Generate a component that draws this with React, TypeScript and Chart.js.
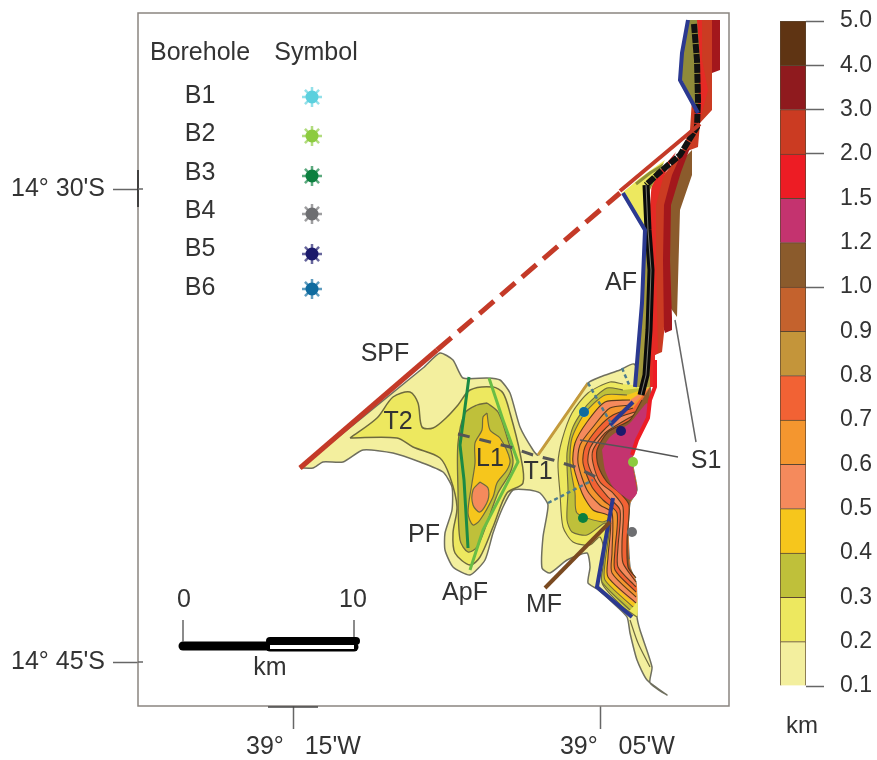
import React, { useEffect, useRef } from "react";
import { Chart, registerables } from "chart.js";

Chart.register(...registerables);

// ---- axes -----
const LAT_TICKS = [189, 662];
const LAT_LABELS = ["14° 30'S", "14° 45'S"];
const LON_TICKS = [293, 600];
const LON_LABELS = ["   39°   15'W", "     39°   05'W"];

// ---- depth classes -----
const LEVELS = ["0.1","0.2","0.3","0.4","0.5","0.6","0.7","0.8","0.9","1.0","1.2","1.5","2.0","3.0","4.0","5.0"];
const MAJOR_LEVELS = ["0.1","1.0","2.0","3.0","4.0","5.0"];
const COLORS = ["#F3EF9E","#EDE85F","#BFC03A","#F6C61C","#F58A5C","#F4962F","#F26234","#C4953A","#C4622D","#8B5B2C","#C4336F","#ED1C24","#CB3B22","#8F1A1E","#5F3413"];

// ---- sediment thickness contours (map grid units, flat x,y lists) -----
const BODY = [300,468,423,368,440,353,453,360,463,378,487,378,500,380,510,393,520,427,533,450,538,455,588,383,600,377,620,370,634,364,650,387,648,418,637,440,632,460,637,490,630,503,628,530,630,567,636,583,637,617,640,630,652,667,650,683,667,695,647,680,637,660,630,633,627,617,613,603,597,589,588,583,590,567,587,553,567,560,550,573,542,568,543,537,548,505,540,493,530,490,513,490,503,507,493,533,485,560,470,575,453,567,445,550,445,533,452,510,452,487,443,472,420,462,393,453,363,450,343,462,323,462,313,468];
const WEST_02 = [350,438,377,418,393,397,410,392,418,403,422,427,433,428,447,417,458,405,470,390,493,387,503,393,510,413,520,453,523,483,507,493,493,527,480,557,470,565,455,553,453,533,457,507,450,477,440,458,413,447,397,438];
const WEST_03 = [487,403,498,412,507,437,513,460,510,473,498,493,487,523,477,547,468,552,460,540,458,490,458,443,465,413,477,405];
const WEST_04 = [487,413,490,430,500,438,510,460,507,470,497,483,493,497,480,520,473,525,468,513,472,483,475,463,475,443,482,430,483,417];
const WEST_05 = [480,482,488,488,488,500,480,512,473,505,473,490];
const EAST_EDGE = [637,617,636,583,630,567,628,530,630,503,637,490,632,460,637,440,648,418,650,387];
const EAST_02 = [623,384,610,382,588,393,572,413,562,440,558,463,560,493,563,527,573,542,590,545,600,537,605,557,602,583,623,607,637,617];
const EAST_03 = [623,390,607,388,587,405,573,427,567,453,568,490,567,520,572,532,587,535,605,523,607,530,603,567,602,582,630,610];
const EAST_04 = [627,395,605,395,585,413,572,438,570,463,575,493,577,513,602,522,610,520,605,563,605,580,633,607];
const EAST_05 = [630,400,605,402,587,422,575,443,573,463,582,493,593,510,610,517,608,557,608,577,636,603];
const EAST_06 = [632,405,610,408,593,427,580,445,578,463,587,490,600,505,612,513,612,553,612,573,636,597];
const EAST_07 = [633,408,613,415,598,428,585,447,583,463,592,487,603,500,617,513,615,550,615,570,636,592];
const EAST_08 = [635,412,618,418,602,432,590,448,588,463,597,483,608,497,620,510,618,547,618,567,636,587];
const EAST_09 = [638,413,622,422,605,433,593,450,593,463,600,482,613,493,623,507,622,543,623,563,636,582];
const EAST_10 = [642,400,630,420,608,432,597,450,598,465,607,482,620,493,629,505,627,540,628,567,636,578];
const EAST_12 = [602,450,610,437,630,423,647,403,648,417,637,440,632,460,637,493,630,500,613,487,605,470];
const TAIL_LINE = [630,620,638,643,650,667];

// ---- northern strip -----
const TOP_DARK = [712,20,720,20,720,70,712,73];
const TOP_ORANGE = [697,20,712,20,712,110,700,123,698,147,690,150,680,155,690,130];
const TOP_RED = [692,20,702,20,702,60,708,90,700,120,695,125];
const TOP_FILL = [688,20,697,20,700,60,698,113,682,80,682,53];
const STRIP_BROWN = [692,150,692,175,680,210,677,317,665,300,662,230,668,190,682,160];
const STRIP_DARK = [690,148,681,172,671,205,670,260,672,318,672,330,665,333,655,300,655,230,664,185,680,155];
const STRIP_ORANGE = [683,150,672,175,664,205,663,260,664,333,662,352,655,355,648,300,648,230,660,180];
const STRIP_RED = [676,152,663,178,656,205,656,260,658,352,655,355,655,387,648,387,648,230,652,180];
const STRIP_WEST = [645,230,642,303,635,387,650,387,650,230];
const WEDGE = [622,193,640,178,665,160,650,190,647,235,645,230];
const WEDGE_OLIVE = [636,184,650,173,660,167,648,190,646,222];
const BLACK_NORTH = [694,24,697,60,698,100,697,127,680,155,660,172,646,185];
const BLACK_SOUTH = [646,185,648,230,651,270,649,330,646,375,641,395];
const RED_EDGE = [655,360,655,387,650,400,648,418,637,440,632,455];

// ---- faults and lines -----
const SPF_SOLID = [300,468,437,350];
const SPF_DASH = [437,350,620,193];
const SPF_NORTH = [620,191,700,124];
const AF_NORTH = [688,20,682,53,680,80,698,113];
const AF_SOUTH = [623,193,645,230,642,303,635,387];
const AF_BRANCH = [633,402,610,425];
const AF_LOWER = [613,498,597,587,632,617];
const PF_LINE = [469,377,460,445,464,480,468,548];
const APF_LINE = [489,378,503,420,518,462,483,530,470,570];
const T_LINE = [458,434,482,440,510,447,533,455,553,460,575,467,598,478];
const T1_LINE = [538,455,588,383];
const MF_LINE = [545,588,610,522];
const DOT_A = [588,383,613,427];
const DOT_B = [622,368,630,387];
const DOT_C = [548,503,593,480];
const S1_A = [580,440,630,448,678,457];
const S1_B = [675,320,696,442];

// ---- scale bar and frame marks -----
const BAR_LEFT = [183,646,268,646];
const BAR_RIGHT_TOP = [270,641,356,641];
const BAR_RIGHT_LOW = [270,647,354,647];
const BAR_TICK_0 = [183,620,183,642];
const BAR_TICK_10 = [354,620,354,637];
const FRAME_MARK_Y = [138,170,138,207];
const FRAME_MARK_X = [268,707,318,707];
const TICK_IN_A = [138,189,143,189];
const TICK_IN_B = [138,662,143,662];

// ---- boreholes -----
const LEGEND_X = [312,312,312,312,312,312];
const LEGEND_Y = [97,136,176,214,254,289];
const BORE_NAMES = ["B1","B2","B3","B4","B5","B6"];
const BORE_COLORS = ["#5BD0DE","#8CCB3F","#0C7F3F","#6D6E71","#1B1A6B","#0F6B9F"];
const BORE_X = [584,633,583,632,621,584];
const BORE_Y = [412,462,518,532,431,412];

// ---- labels -----
const MAP_TEXT: [string, number, number][] = [
  ["Borehole",200,53],["Symbol",316,53],
  [BORE_NAMES[0],200,96],[BORE_NAMES[1],200,134],[BORE_NAMES[2],200,173],[BORE_NAMES[3],200,211],[BORE_NAMES[4],200,249],[BORE_NAMES[5],200,288],
  ["SPF",385,354],["T2",398,422],["L1",490,459],["T1",538,472],["PF",424,535],["ApF",465,593],["MF",544,605],["AF",621,283],["S1",706,461],
  ["0",184,600],["10",353,600],["km",270,668],
];

const pts = (a: number[]) => {
  const out: { x: number; y: number }[] = [];
  for (let i = 0; i < a.length; i += 2) out.push({ x: a[i], y: a[i + 1] });
  return out;
};
const closed = (a: number[]) => [...pts(a), { x: a[0], y: a[1] }];
const withEdge = (a: number[]) => {
  const lastY = a[a.length - 1];
  return [...pts(a), ...pts(EAST_EDGE).filter((p) => p.y < lastY)];
};

const base = { showLine: true, pointRadius: 0, clip: false as any, borderCapStyle: "butt" as const };
const area = (data: any[], color: string, stroke = "rgba(0,0,0,0)", w = 0, tension = 0.3) => ({
  ...base, data, backgroundColor: color, borderColor: stroke, borderWidth: w, fill: "shape", tension,
});
const line = (a: number[], color: string, w: number, extra: any = {}) => ({
  ...base, data: pts(a), borderColor: color, borderWidth: w, fill: false, ...extra,
});
const CONTOUR = "#6e6a3e";
const DARK = "#5a3a1c";
const east = (a: number[], color: string, stroke: string) => [
  area(withEdge(a), color, undefined as any, 0, 0.25),
  line(a, stroke, 1.1, { tension: 0.25 }),
];

function buildDatasets() {
  const list: any[] = [
    area(closed(BODY), COLORS[0], "#6f6f5f", 1.5, 0.2),
    line(TAIL_LINE, CONTOUR, 1.2, { tension: 0.3 }),
    area(closed(WEST_02), COLORS[1], CONTOUR, 1.5),
    area(closed(WEST_03), COLORS[2], CONTOUR, 1.3),
    area(closed(WEST_04), COLORS[3], CONTOUR, 1.2),
    area(closed(WEST_05), COLORS[4], CONTOUR, 1.2),
    ...east(EAST_02, COLORS[1], CONTOUR),
    ...east(EAST_03, COLORS[2], CONTOUR),
    ...east(EAST_04, COLORS[3], CONTOUR),
    ...east(EAST_05, COLORS[4], DARK),
    ...east(EAST_06, COLORS[5], DARK),
    ...east(EAST_07, COLORS[6], DARK),
    ...east(EAST_08, COLORS[4], DARK),
    ...east(EAST_09, COLORS[6], DARK),
    ...east(EAST_10, COLORS[9], DARK),
    area(closed(EAST_12), COLORS[10], "rgba(0,0,0,0)", 0, 0.2),
    area(closed(TOP_DARK), "#A3171C", undefined as any, 0, 0),
    area(closed(TOP_ORANGE), COLORS[12], undefined as any, 0, 0),
    area(closed(TOP_RED), "#E52A25", undefined as any, 0, 0),
    area(closed(TOP_FILL), "#8f8a3a", undefined as any, 0, 0),
    area(closed(STRIP_BROWN), COLORS[9], undefined as any, 0, 0),
    area(closed(STRIP_DARK), "#A3171C", undefined as any, 0, 0),
    area(closed(STRIP_ORANGE), COLORS[12], undefined as any, 0, 0),
    area(closed(STRIP_RED), "#E52A25", undefined as any, 0, 0),
    area(closed(STRIP_WEST), "#a39a3c", undefined as any, 0, 0),
    area(closed(WEDGE), COLORS[1], undefined as any, 0, 0),
    line(WEDGE_OLIVE, "#8f9136", 3),
    line(RED_EDGE, "#ED1C24", 4),
    line(BLACK_NORTH, "#111111", 6, { borderDash: [9, 1] }),
    line(BLACK_SOUTH, "#0b0b0b", 7),
    line(BLACK_SOUTH, "#7c7c70", 1),
    line(SPF_SOLID, "#C43A28", 5),
    line(SPF_DASH, "#C43A28", 5, { borderDash: [19, 9] }),
    line(SPF_NORTH, "#C43A28", 4),
    line(AF_NORTH, "#2B3990", 4),
    line(AF_SOUTH, "#2B3990", 4),
    line(AF_BRANCH, "#2B3990", 4),
    line(AF_LOWER, "#2B3990", 4),
    line(PF_LINE, "#1B8A45", 3),
    line(APF_LINE, "#6ABD45", 3),
    line(T1_LINE, "#C49A3C", 3),
    line(MF_LINE, "#7A4A21", 4),
    line(T_LINE, "#555555", 3, { borderDash: [12, 10] }),
    line(DOT_A, "#4E7C8E", 2.5, { borderDash: [4, 3] }),
    line(DOT_B, "#4E7C8E", 2.5, { borderDash: [4, 3] }),
    line(DOT_C, "#4E7C8E", 2.5, { borderDash: [4, 3] }),
    line(S1_A, "#555555", 1.3),
    line(S1_B, "#666666", 1.5),
    line(BAR_LEFT, "#000000", 9, { borderCapStyle: "round" }),
    line(BAR_RIGHT_LOW, "#000000", 9, { borderCapStyle: "round" }),
    line(BAR_RIGHT_TOP, "#000000", 8, { borderCapStyle: "round" }),
    line(BAR_RIGHT_LOW, "#ffffff", 4),
    line(BAR_TICK_0, "#666666", 1.5),
    line(BAR_TICK_10, "#666666", 1.5),
    line(FRAME_MARK_Y, "#222222", 1.5),
    line(FRAME_MARK_X, "#444444", 1.5),
    line(TICK_IN_A, "#666666", 1.5),
    line(TICK_IN_B, "#666666", 1.5),
    {
      data: LEGEND_X.map((x, i) => ({ x, y: LEGEND_Y[i] })),
      showLine: false, pointStyle: "star", pointRadius: 10,
      pointBorderColor: BORE_COLORS.map((c) => c + "aa"), pointBorderWidth: 2.5, pointBackgroundColor: "transparent",
    },
    {
      data: LEGEND_X.map((x, i) => ({ x, y: LEGEND_Y[i] })),
      showLine: false, pointStyle: "circle", pointRadius: 6.5, pointBorderWidth: 0,
      pointBackgroundColor: BORE_COLORS,
    },
    {
      data: BORE_X.map((x, i) => ({ x, y: BORE_Y[i] })),
      showLine: false, pointStyle: "circle", pointRadius: 5, pointBorderWidth: 0,
      pointBackgroundColor: BORE_COLORS,
    },
  ];
  return list.map((d, i) => ({ ...d, order: list.length - i }));
}

const FONT = "Liberation Sans";
const TEXT_COLOR = "#333333";
const noPad = (s: any) => { s.paddingTop = 0; s.paddingBottom = 0; s.paddingLeft = 0; s.paddingRight = 0; };

const frameAndText = {
  id: "frameAndText",
  beforeDatasetsDraw(chart: any) {
    const { ctx, chartArea: a } = chart;
    ctx.save();
    ctx.strokeStyle = "#8a8580";
    ctx.lineWidth = 1.5;
    ctx.strokeRect(a.left, a.top, a.right - a.left, a.bottom - a.top);
    ctx.restore();
  },
  afterDatasetsDraw(chart: any) {
    const { ctx, scales } = chart;
    ctx.save();
    ctx.font = `25px "${FONT}"`;
    ctx.fillStyle = TEXT_COLOR;
    ctx.textAlign = "center";
    ctx.textBaseline = "middle";
    for (const [t, x, y] of MAP_TEXT) {
      ctx.fillText(t, scales.x.getPixelForValue(x), scales.y.getPixelForValue(y));
    }
    ctx.restore();
  },
};

const kmLabel = {
  id: "kmLabel",
  afterDraw(chart: any) {
    const { ctx } = chart;
    ctx.save();
    ctx.font = `24px "${FONT}"`;
    ctx.fillStyle = TEXT_COLOR;
    ctx.textAlign = "center";
    ctx.textBaseline = "middle";
    ctx.fillText("km", 42, 726);
    ctx.restore();
  },
};

export default function App() {
  const mapRef = useRef<HTMLCanvasElement>(null);
  const barRef = useRef<HTMLCanvasElement>(null);

  useEffect(() => {
    const map = new Chart(mapRef.current as any, {
      type: "scatter",
      data: { datasets: buildDatasets() },
      plugins: [frameAndText],
      options: {
        animation: false, responsive: false, devicePixelRatio: 1,
        layout: { autoPadding: false, padding: { top: 13, right: 148, left: 0, bottom: 0 } },
        plugins: { legend: { display: false }, tooltip: { enabled: false } },
        scales: {
          x: {
            type: "linear", min: 138, max: 729,
            afterBuildTicks: (s: any) => { s.ticks = LON_TICKS.map((value) => ({ value })); },
            afterFit: (s: any) => { s.height = 54; noPad(s); },
            ticks: {
              autoSkip: false, maxRotation: 0, padding: 3, color: TEXT_COLOR, font: { family: FONT, size: 25 },
              callback: (v: any) => LON_LABELS[LON_TICKS.indexOf(v)],
            },
            grid: { drawOnChartArea: false, tickLength: 23, tickColor: "#666666", tickWidth: 1.5 },
            border: { display: false },
          },
          y: {
            type: "linear", min: 13, max: 706, reverse: true,
            afterBuildTicks: (s: any) => { s.ticks = LAT_TICKS.map((value) => ({ value })); },
            afterFit: (s: any) => { s.width = 138; noPad(s); },
            ticks: {
              autoSkip: false, padding: 8, color: TEXT_COLOR, font: { family: FONT, size: 25 },
              callback: (v: any) => LAT_LABELS[LAT_TICKS.indexOf(v)],
            },
            grid: { drawOnChartArea: false, tickLength: 25, tickColor: "#666666", tickWidth: 1.5 },
            border: { display: false },
          },
        },
      } as any,
    });

    const bar = new Chart(barRef.current as any, {
      type: "bar",
      data: {
        labels: ["km"],
        datasets: COLORS.map((c) => ({
          data: [1], backgroundColor: c, borderColor: "#5c4630", borderWidth: 1,
          barPercentage: 1, categoryPercentage: 1, stack: "s",
        })),
      },
      plugins: [kmLabel],
      options: {
        animation: false, responsive: false, devicePixelRatio: 1,
        layout: { autoPadding: false, padding: { top: 21, left: 20, right: 0, bottom: 0 } },
        plugins: { legend: { display: false }, tooltip: { enabled: false } },
        scales: {
          x: {
            stacked: true, grid: { display: false }, border: { display: false },
            ticks: { display: false },
            afterFit: (s: any) => { s.height = 74; noPad(s); },
          },
          y: {
            stacked: true, position: "right", min: 0, max: 15,
            afterFit: (s: any) => { s.width = 71; noPad(s); },
            ticks: {
              stepSize: 1, autoSkip: false, padding: 16, color: TEXT_COLOR,
              font: { family: FONT, size: 23 },
              callback: (v: any) => LEVELS[v],
            },
            grid: {
              drawOnChartArea: false, tickLength: 18, tickWidth: 1.5,
              tickColor: (c: any) => MAJOR_LEVELS.includes(LEVELS[c.tick?.value]) ? "#666666" : "rgba(0,0,0,0)",
            },
            border: { display: false },
          },
        },
      } as any,
    });

    return () => { map.destroy(); bar.destroy(); };
  }, []);

  return (
    <div style={{ position: "absolute", left: 0, top: 0, width: 877, height: 760, background: "#fff", overflow: "hidden" }}>
      <canvas ref={mapRef} width={877} height={760} style={{ position: "absolute", left: 0, top: 0 }} />
      <canvas ref={barRef} width={117} height={760} style={{ position: "absolute", left: 760, top: 0 }} />
    </div>
  );
}
